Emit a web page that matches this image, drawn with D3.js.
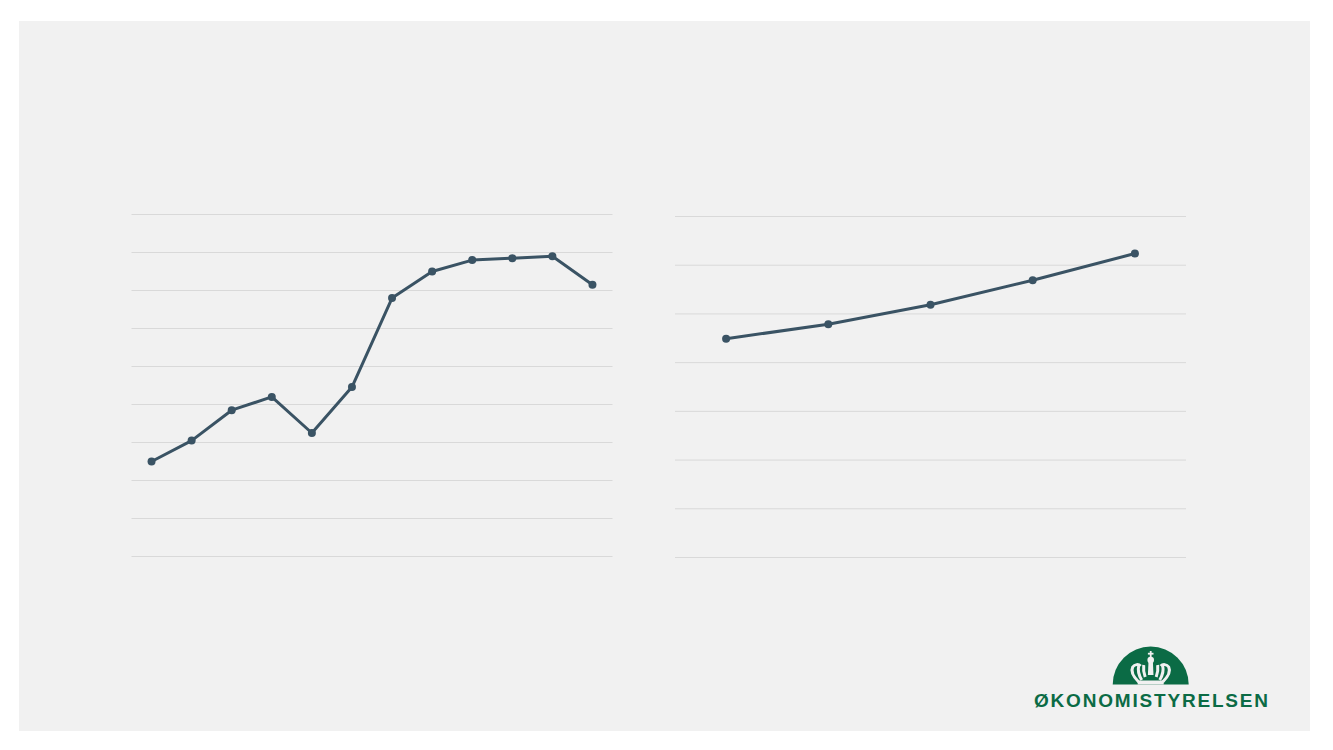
<!DOCTYPE html>
<html>
<head>
<meta charset="utf-8">
<script src="https://cdn.jsdelivr.net/npm/d3@7"></script>
<style>
html, body { margin: 0; padding: 0; background: #fff; }
svg { display: block; }
</style>
</head>
<body>
<div id="chart"></div>
<script>
// the axis labels are not visible in the picture, so categories are just ordinals
var leftCategories = ["1", "2", "3", "4", "5", "6", "7", "8", "9", "10", "11", "12"];
var leftValues = [2.5, 3.05, 3.85, 4.2, 3.25, 4.46, 6.8, 7.5, 7.8, 7.85, 7.9, 7.15];
var leftTicks = [0, 1, 2, 3, 4, 5, 6, 7, 8, 9];

var rightCategories = ["1", "2", "3", "4", "5"];
var rightValues = [4.49, 4.79, 5.19, 5.69, 6.24];
var rightTicks = [0, 1, 2, 3, 4, 5, 6, 7];

var logoName = "ØKONOMISTYRELSEN";

var lineColor = "#3a5364";
var gridColor = "#d9d9d9";
var logoColor = "#0b6b45";
var panelColor = "#f1f1f1";

var svg = d3.select("#chart").append("svg")
	.attr("width", 1333)
	.attr("height", 750);

svg.append("rect")
	.attr("x", 19)
	.attr("y", 21)
	.attr("width", 1291)
	.attr("height", 710)
	.attr("fill", panelColor);

function drawPanel(categories, values, ticks, box)
{
	var x = d3.scaleBand().domain(categories).range([box.left, box.right]);
	var y = d3.scaleLinear().domain(d3.extent(ticks)).range([box.bottom, box.top]);

	var g = svg.append("g");

	var grid = g.append("g")
		.call(d3.axisLeft(y).offset(0).tickValues(ticks).tickSize(box.left - box.right).tickFormat(""))
		.attr("transform", "translate(" + box.left + ",0)");
	grid.select(".domain").remove();
	grid.selectAll("line").attr("stroke", gridColor).attr("stroke-width", 1);

	var points = categories.map(function(c, i) { return {c: c, v: values[i]}; });

	var line = d3.line()
		.x(function(d) { return x(d.c) + x.bandwidth() / 2; })
		.y(function(d) { return y(d.v); });

	g.append("path")
		.datum(points)
		.attr("d", line)
		.attr("fill", "none")
		.attr("stroke", lineColor)
		.attr("stroke-width", 3)
		.attr("stroke-linejoin", "round");

	g.selectAll("circle")
		.data(points)
		.join("circle")
		.attr("cx", function(d) { return x(d.c) + x.bandwidth() / 2; })
		.attr("cy", function(d) { return y(d.v); })
		.attr("r", 4)
		.attr("fill", lineColor);
}

function drawLogo()
{
	var g = svg.append("g");
	var cx = 1150.7, base = 684.5, r = 38;

	g.append("path")
		.attr("d", d3.arc()({innerRadius: 0, outerRadius: r, startAngle: -Math.PI / 2, endAngle: Math.PI / 2}))
		.attr("transform", "translate(" + cx + "," + base + ")")
		.attr("fill", logoColor);

	var crown = g.append("g").attr("transform", "translate(" + cx + ",0)");

	// cross and orb
	crown.append("rect").attr("x", -0.9).attr("y", 651).attr("width", 1.8).attr("height", 7).attr("fill", panelColor);
	crown.append("rect").attr("x", -2.8).attr("y", 652.8).attr("width", 5.6).attr("height", 1.8).attr("fill", panelColor);
	crown.append("circle").attr("cy", 660).attr("r", 3.3).attr("fill", panelColor);
	crown.append("path")
		.attr("d", "M-2.2 662 L2.2 662 L2.8 675 L-2.8 675 Z")
		.attr("fill", panelColor);

	// base of the crown, cut out of the half circle
	crown.append("rect").attr("x", -13).attr("y", 680.5).attr("width", 26).attr("height", 4).attr("fill", panelColor);

	// arches, mirrored around the middle
	var arches = [
		"M12 682 C17 677 20 671 18 667 C16 664 12 664 10 666",
		"M9 680 C12 675 13 670 12 666",
		"M5.5 677 C7 673 7.5 669 7 665"
	];
	[-1, 1].forEach(function(side) {
		arches.forEach(function(d) {
			crown.append("path")
				.attr("d", d)
				.attr("transform", "scale(" + side + ",1)")
				.attr("fill", "none")
				.attr("stroke", panelColor)
				.attr("stroke-width", 3);
		});
	});

	g.append("text")
		.attr("x", 1034)
		.attr("y", 706.6)
		.attr("textLength", 234)
		.attr("lengthAdjust", "spacing")
		.attr("font-family", "'Liberation Sans', sans-serif")
		.attr("font-weight", "bold")
		.attr("font-size", 19)
		.attr("fill", logoColor)
		.text(logoName);
}

drawPanel(leftCategories, leftValues, leftTicks, {left: 131.5, right: 612.5, top: 214.5, bottom: 556.5});
drawPanel(rightCategories, rightValues, rightTicks, {left: 675, right: 1186, top: 216.5, bottom: 557.5});
drawLogo();
</script>
</body>
</html>
